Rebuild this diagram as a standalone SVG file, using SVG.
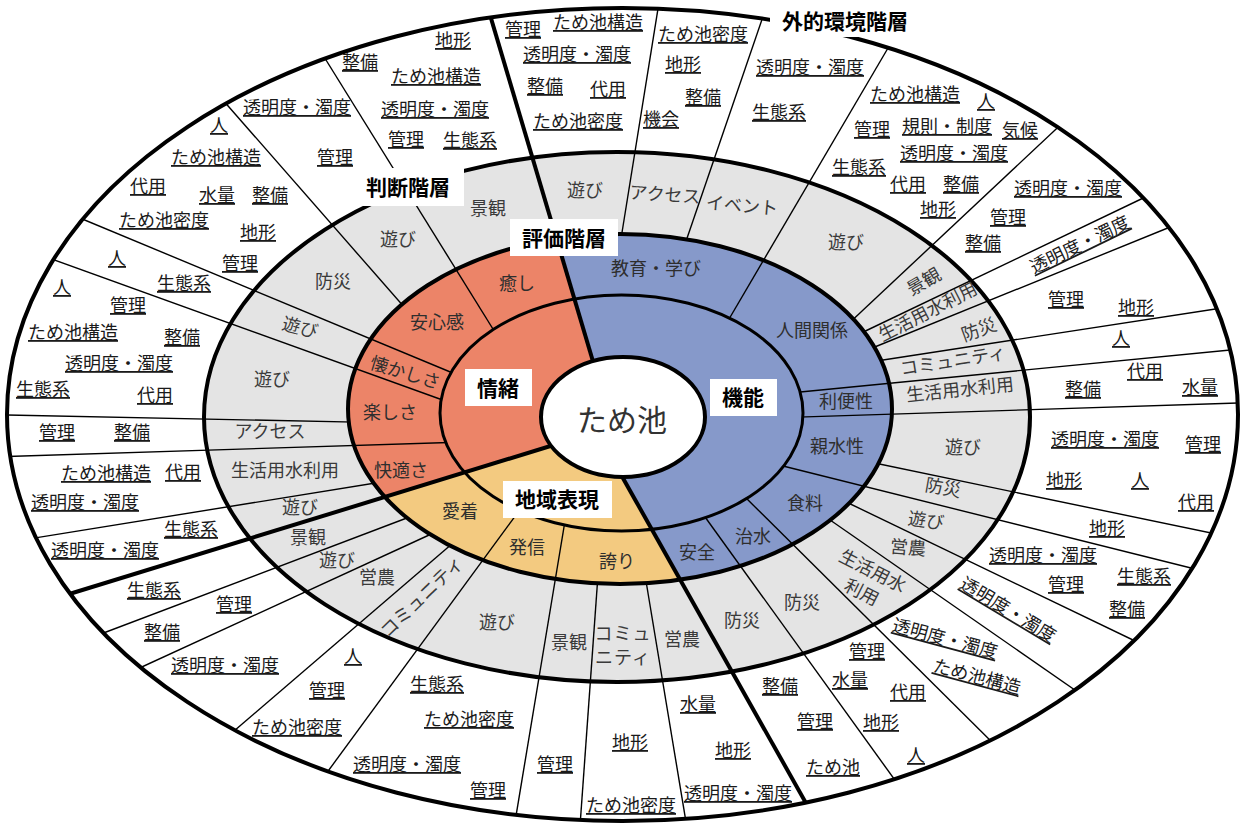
<svg xmlns="http://www.w3.org/2000/svg" width="1242" height="823" viewBox="0 0 1242 823">
<style>
text{font-family:"Noto Sans CJK JP","Noto Sans",sans-serif;text-anchor:middle;font-size:18px}
.o{fill:#1a1a1a;text-decoration:underline}
.g{fill:#3a3a3a}
.c{fill:#2e2e2e}
.b{font-size:21px;font-weight:700;fill:#000}
.ctr{font-size:30px;fill:#333}
.thin{stroke:#000;stroke-width:1.4;fill:none}
.thick{stroke:#000;stroke-width:4;fill:none}
.ring{fill:none;stroke:#000}
</style>
<defs>
<clipPath id="cIC"><path clip-rule="evenodd" d="M7,414.5 a615.5,406.5 0 1 0 1231,0 a615.5,406.5 0 1 0 -1231,0 Z M440,413 a181.5,118 0 1 0 363,0 a181.5,118 0 1 0 -363,0 Z"/></clipPath>
<clipPath id="cCO"><path clip-rule="evenodd" d="M7,414.5 a615.5,406.5 0 1 0 1231,0 a615.5,406.5 0 1 0 -1231,0 Z M348,409 a272,175 0 1 0 544,0 a272,175 0 1 0 -544,0 Z"/></clipPath>
<clipPath id="cCT"><path clip-rule="evenodd" d="M7,414.5 a615.5,406.5 0 1 0 1231,0 a615.5,406.5 0 1 0 -1231,0 Z M541,417 a82,60 0 1 0 164,0 a82,60 0 1 0 -164,0 Z"/></clipPath>
<clipPath id="cColor"><ellipse cx="620" cy="409" rx="272" ry="175"/></clipPath>
</defs>
<g id="background">
<ellipse cx="622.5" cy="414.5" rx="615.5" ry="406.5" fill="#fff"/>
<ellipse cx="617" cy="417" rx="413" ry="265" fill="#e4e4e4"/>
<g clip-path="url(#cColor)">
<polygon fill="#ec8468" points="604,400 456,-100 -100,-100 -100,647 580,437"/>
<polygon fill="#8699ca" points="604,400 456,-100 1400,-100 1400,1000 917,1000 615,464"/>
<polygon fill="#f3ca80" points="580,437 -100,647 -100,1000 917,1000 615,464"/>
</g>
</g>
<g id="connectors">
<g clip-path="url(#cIC)" class="thin">
<line x1="506" y1="350" x2="308" y2="31"/>
<line x1="472" y1="381" x2="63" y2="211"/>
<line x1="462" y1="407" x2="35" y2="253"/>
<line x1="465" y1="442" x2="-10" y2="457"/>
<line x1="527" y1="500" x2="312" y2="793"/>
<line x1="566" y1="515" x2="512" y2="840"/>
<line x1="700" y1="510" x2="910" y2="801"/>
<line x1="740" y1="492" x2="1010" y2="760"/>
<line x1="775" y1="464" x2="1215" y2="574"/>
<line x1="790" y1="417.4" x2="1255" y2="402.5"/>
<line x1="790" y1="393" x2="1250" y2="348"/>
<line x1="722" y1="331" x2="898" y2="31"/>
</g>
<g clip-path="url(#cCO)" class="thin">
<line x1="412" y1="316" x2="215" y2="91"/>
<line x1="368" y1="422.4" x2="-10" y2="414.6"/>
<line x1="394" y1="480" x2="16" y2="541"/>
<line x1="420" y1="513" x2="85" y2="640"/>
<line x1="440" y1="530" x2="120" y2="677"/>
<line x1="460" y1="537" x2="220" y2="743"/>
<line x1="598" y1="575" x2="579" y2="840"/>
<line x1="645" y1="575" x2="689" y2="840"/>
<line x1="820" y1="513" x2="1095" y2="704"/>
<line x1="840" y1="499" x2="1160" y2="653"/>
<line x1="865" y1="461" x2="1235" y2="538"/>
<line x1="870" y1="362" x2="1235" y2="306"/>
<line x1="860" y1="353" x2="1185" y2="221"/>
<line x1="855" y1="336" x2="1160" y2="190"/>
<line x1="845" y1="327" x2="1070" y2="116"/>
<line x1="684" y1="247" x2="768" y2="2"/>
<line x1="620" y1="245" x2="661" y2="-10"/>
</g>
<g clip-path="url(#cCT)" class="thick">
<line x1="600" y1="385" x2="482" y2="-12"/>
<line x1="570" y1="440" x2="40" y2="603"/>
<line x1="615" y1="464" x2="820" y2="828"/>
</g>
</g>
<g id="rings">
<ellipse class="ring" stroke-width="4" cx="622.5" cy="414.5" rx="615.5" ry="406.5"/>
<ellipse class="ring" stroke-width="4" cx="617" cy="417" rx="413" ry="265"/>
<ellipse class="ring" stroke-width="4" cx="620" cy="409" rx="272" ry="175"/>
<ellipse class="ring" stroke-width="3" cx="621.5" cy="413" rx="181.5" ry="118"/>
</g>
<g id="center">
<ellipse cx="623" cy="417" rx="82" ry="60" fill="#fff" stroke="#000" stroke-width="4"/>
<text class="ctr" x="622" y="431">ため池</text>
</g>
<g id="outer-labels">
<text class="o" x="453" y="47">地形</text>
<text class="o" x="360" y="69">整備</text>
<text class="o" x="436" y="83">ため池構造</text>
<text class="o" x="435" y="116">透明度・濁度</text>
<text class="o" x="406" y="146">管理</text>
<text class="o" x="470" y="147">生態系</text>
<text class="o" x="297" y="114">透明度・濁度</text>
<text class="o" x="335" y="164">管理</text>
<text class="o" x="219" y="132">人</text>
<text class="o" x="216" y="164">ため池構造</text>
<text class="o" x="148" y="193">代用</text>
<text class="o" x="217" y="202">水量</text>
<text class="o" x="270" y="202">整備</text>
<text class="o" x="164" y="227">ため池密度</text>
<text class="o" x="258" y="239">地形</text>
<text class="o" x="240" y="270">管理</text>
<text class="o" x="117" y="265">人</text>
<text class="o" x="184" y="290">生態系</text>
<text class="o" x="62" y="294">人</text>
<text class="o" x="128" y="312">管理</text>
<text class="o" x="73" y="339">ため池構造</text>
<text class="o" x="182" y="344">整備</text>
<text class="o" x="119" y="370">透明度・濁度</text>
<text class="o" x="43" y="396">生態系</text>
<text class="o" x="155" y="402">代用</text>
<text class="o" x="57" y="439">管理</text>
<text class="o" x="132" y="439">整備</text>
<text class="o" x="106" y="480">ため池構造</text>
<text class="o" x="183" y="479">代用</text>
<text class="o" x="85" y="509">透明度・濁度</text>
<text class="o" x="191" y="536">生態系</text>
<text class="o" x="105" y="557">透明度・濁度</text>
<text class="o" x="154" y="597">生態系</text>
<text class="o" x="234" y="611">管理</text>
<text class="o" x="162" y="639">整備</text>
<text class="o" x="225" y="672">透明度・濁度</text>
<text class="o" x="353" y="663">人</text>
<text class="o" x="327" y="697">管理</text>
<text class="o" x="297" y="734">ため池密度</text>
<text class="o" x="437" y="691">生態系</text>
<text class="o" x="469" y="726">ため池密度</text>
<text class="o" x="407" y="771">透明度・濁度</text>
<text class="o" x="488" y="797">管理</text>
<text class="o" x="555" y="771">管理</text>
<text class="o" x="630" y="749">地形</text>
<text class="o" x="631" y="812">ため池密度</text>
<text class="o" x="698" y="711">水量</text>
<text class="o" x="733" y="757">地形</text>
<text class="o" x="738" y="800">透明度・濁度</text>
<text class="o" x="780" y="693">整備</text>
<text class="o" x="815" y="728">管理</text>
<text class="o" x="833" y="774">ため池</text>
<text class="o" x="867" y="658">管理</text>
<text class="o" x="850" y="687">水量</text>
<text class="o" x="908" y="699">代用</text>
<text class="o" x="881" y="729">地形</text>
<text class="o" x="916" y="762">人</text>
<text class="o" x="945" y="645" transform="rotate(15 945 639)">透明度・濁度</text>
<text class="o" x="977" y="683" transform="rotate(15 977 677)">ため池構造</text>
<text class="o" x="1008" y="616" transform="rotate(31 1008 610)">透明度・濁度</text>
<text class="o" x="1043" y="562">透明度・濁度</text>
<text class="o" x="1066" y="591">管理</text>
<text class="o" x="1144" y="583">生態系</text>
<text class="o" x="1127" y="616">整備</text>
<text class="o" x="1107" y="535">地形</text>
<text class="o" x="1105" y="446">透明度・濁度</text>
<text class="o" x="1203" y="451">管理</text>
<text class="o" x="1064" y="487">地形</text>
<text class="o" x="1140" y="487">人</text>
<text class="o" x="1196" y="509">代用</text>
<text class="o" x="1083" y="396">整備</text>
<text class="o" x="1145" y="378">代用</text>
<text class="o" x="1200" y="394">水量</text>
<text class="o" x="1121" y="345">人</text>
<text class="o" x="1066" y="306">管理</text>
<text class="o" x="1136" y="314">地形</text>
<text class="o" x="1080" y="251" transform="rotate(-26 1080 245)">透明度・濁度</text>
<text class="o" x="1068" y="195">透明度・濁度</text>
<text class="o" x="1008" y="224">管理</text>
<text class="o" x="983" y="250">整備</text>
<text class="o" x="915" y="101">ため池構造</text>
<text class="o" x="986" y="108">人</text>
<text class="o" x="872" y="136">管理</text>
<text class="o" x="947" y="133">規則・制度</text>
<text class="o" x="1020" y="137">気候</text>
<text class="o" x="954" y="160">透明度・濁度</text>
<text class="o" x="859" y="174">生態系</text>
<text class="o" x="908" y="191">代用</text>
<text class="o" x="961" y="191">整備</text>
<text class="o" x="938" y="216">地形</text>
<text class="o" x="810" y="74">透明度・濁度</text>
<text class="o" x="779" y="119">生態系</text>
<text class="o" x="703" y="41">ため池密度</text>
<text class="o" x="683" y="71">地形</text>
<text class="o" x="703" y="104">整備</text>
<text class="o" x="661" y="126">機会</text>
<text class="o" x="523" y="36">管理</text>
<text class="o" x="598" y="29">ため池構造</text>
<text class="o" x="577" y="61">透明度・濁度</text>
<text class="o" x="545" y="93">整備</text>
<text class="o" x="608" y="96">代用</text>
<text class="o" x="578" y="128">ため池密度</text>
</g>
<g id="judgement-labels">
<text class="g" x="585" y="197">遊び</text>
<text class="g" x="665" y="201" transform="rotate(4 665 195)">アクセス</text>
<text class="g" x="742" y="212" transform="rotate(5 742 206)">イベント</text>
<text class="g" x="846" y="249">遊び</text>
<text class="g" x="924" y="288" transform="rotate(-30 924 282)">景観</text>
<text class="g" x="928" y="318" transform="rotate(-27 928 312)">生活用水利用</text>
<text class="g" x="979" y="336" transform="rotate(-20 979 330)">防災</text>
<text class="g" x="953" y="367" transform="rotate(-9 953 361)">コミュニティ</text>
<text class="g" x="960" y="396" transform="rotate(-6 960 390)">生活用水利用</text>
<text class="g" x="963" y="454">遊び</text>
<text class="g" x="943" y="494" transform="rotate(10 943 488)">防災</text>
<text class="g" x="926" y="527" transform="rotate(8 926 521)">遊び</text>
<text class="g" x="908" y="554" transform="rotate(5 908 548)">営農</text>
<g transform="translate(867 582) rotate(27)">
<text class="g" x="0" y="-6">生活用水</text>
<text class="g" x="0" y="18">利用</text>
</g>
<text class="g" x="802" y="609">防災</text>
<text class="g" x="742" y="627">防災</text>
<text class="g" x="682" y="646">営農</text>
<text class="g" x="623" y="640" letter-spacing="1">コミュ</text>
<text class="g" x="623" y="664" letter-spacing="1">ニティ</text>
<text class="g" x="569" y="649">景観</text>
<text class="g" x="497" y="629">遊び</text>
<text class="g" x="422" y="603" transform="rotate(-44 422 597)">コミュニティ</text>
<text class="g" x="377" y="584">営農</text>
<text class="g" x="337" y="567">遊び</text>
<text class="g" x="308" y="544">景観</text>
<text class="g" x="300" y="514">遊び</text>
<text class="g" x="285" y="477">生活用水利用</text>
<text class="g" x="270" y="438">アクセス</text>
<text class="g" x="272" y="386">遊び</text>
<text class="g" x="300" y="334" transform="rotate(15 300 328)">遊び</text>
<text class="g" x="333" y="288">防災</text>
<text class="g" x="398" y="246">遊び</text>
<text class="g" x="488" y="215">景観</text>
</g>
<g id="evaluation-labels">
<text class="c" x="517" y="290">癒し</text>
<text class="c" x="437" y="329">安心感</text>
<text class="c" x="405" y="379" transform="rotate(17 405 373)">懐かしさ</text>
<text class="c" x="390" y="419">楽しさ</text>
<text class="c" x="401" y="477">快適さ</text>
<text class="c" x="656" y="275">教育・学び</text>
<text class="c" x="812" y="337">人間関係</text>
<text class="c" x="846" y="408">利便性</text>
<text class="c" x="837" y="453">親水性</text>
<text class="c" x="805" y="510">食料</text>
<text class="c" x="753" y="543">治水</text>
<text class="c" x="697" y="559">安全</text>
<text class="c" x="460" y="518">愛着</text>
<text class="c" x="527" y="554">発信</text>
<text class="c" x="617" y="568">誇り</text>
</g>
<g id="category-jocho"><rect x="465" y="369" width="67" height="37" fill="#fff"/><text class="b" x="498" y="396">情緒</text></g>
<g id="category-kino"><rect x="710" y="379" width="67" height="37" fill="#fff"/><text class="b" x="743" y="405">機能</text></g>
<g id="category-chiiki"><rect x="503" y="481" width="109" height="37" fill="#fff"/><text class="b" x="557" y="507">地域表現</text></g>
<g id="layer-hyoka"><rect x="510" y="219" width="108" height="37" fill="#fff"/><text class="b" x="564" y="246">評価階層</text></g>
<g id="layer-handan"><rect x="356" y="168" width="108" height="38" fill="#fff"/><text class="b" x="408" y="195">判断階層</text></g>
<g id="layer-gaiteki"><rect x="770" y="0" width="150" height="37" fill="#fff"/><text class="b" x="845" y="29">外的環境階層</text></g>
</svg>
